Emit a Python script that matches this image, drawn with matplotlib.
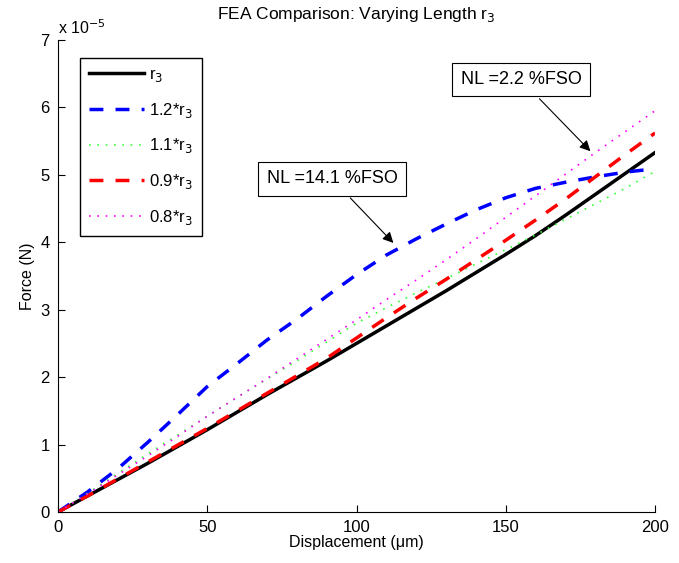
import matplotlib.pyplot as plt

plt.rcParams['font.family'] = ['Liberation Sans', 'DejaVu Sans']

# displacement (um) and force (x 1e-5 N)
disp = [0, 10, 20, 30, 40, 50, 60, 70, 80, 90, 100,
        110, 120, 130, 140, 150, 160, 170, 180, 190, 200]
f_r3 = [0, 0.24, 0.48, 0.72, 0.97, 1.22, 1.48, 1.74, 1.99, 2.24, 2.5,
        2.76, 3.02, 3.28, 3.55, 3.82, 4.1, 4.4, 4.71, 5.02, 5.33]
f_12 = [0, 0.3, 0.64, 1.03, 1.44, 1.86, 2.2, 2.55, 2.86, 3.2, 3.52,
        3.81, 4.05, 4.27, 4.48, 4.66, 4.8, 4.89, 4.97, 5.04, 5.09]
f_11 = [0, 0.28, 0.57, 0.86, 1.14, 1.42, 1.7, 1.97, 2.24, 2.52, 2.8,
        3.03, 3.25, 3.46, 3.68, 3.89, 4.11, 4.34, 4.57, 4.8, 5.05]
f_09 = [0, 0.24, 0.49, 0.74, 0.99, 1.24, 1.5, 1.76, 2.02, 2.28, 2.58,
        2.88, 3.17, 3.45, 3.74, 4.03, 4.33, 4.64, 4.97, 5.3, 5.62]
f_08 = [0, 0.27, 0.55, 0.83, 1.12, 1.42, 1.7, 1.98, 2.27, 2.56, 2.85,
        3.15, 3.44, 3.74, 4.05, 4.37, 4.69, 5.01, 5.33, 5.64, 5.95]

fig = plt.figure(figsize=(6.79, 5.63), dpi=100)
ax = fig.add_axes([0.0854, 0.0906, 0.8793, 0.8384])

ax.plot(disp, f_r3, color='black', lw=2.5, label='r$_3$')
ax.plot(disp, f_12, color='blue', lw=2.5, dashes=(4, 3.5), label='1.2*r$_3$')
ax.plot(disp, f_11, color='#33ff33', lw=1.2, ls=(0, (1, 4)), label='1.1*r$_3$')
ax.plot(disp, f_09, color='red', lw=2.5, dashes=(4, 3.5), label='0.9*r$_3$')
ax.plot(disp, f_08, color='magenta', lw=1.2, ls=(0, (1, 4)), label='0.8*r$_3$')

ax.set_xlim(0, 200)
ax.set_ylim(0, 7)
ax.set_xticks([0, 50, 100, 150, 200])
ax.set_yticks(range(8))
ax.tick_params(direction='in', labelsize=12, length=5, pad=6)
ax.spines['top'].set_visible(False)
ax.spines['right'].set_visible(False)

ax.set_xlabel('Displacement (\u03bcm)', fontsize=11.5, labelpad=0)
ax.set_ylabel('Force (N)', fontsize=11.5, labelpad=4)
ax.set_title('FEA Comparison: Varying Length r$_3$', fontsize=12.5, pad=15)
ax.text(0, 7.04, 'x 10$^{-5}$', fontsize=11.5, ha='left', va='bottom')

leg = ax.legend(loc='upper left', bbox_to_anchor=(0.037, 0.962), fontsize=12,
                fancybox=False, framealpha=1, handlelength=3.3,
                labelspacing=1.0, borderpad=0.55, handletextpad=0.3,
                borderaxespad=0)
leg.get_frame().set_edgecolor('black')
leg.get_frame().set_linewidth(1.0)

box = dict(boxstyle='square,pad=0.45', fc='white', ec='black', lw=0.8)
arrow = dict(arrowstyle='-|>', color='black', lw=0.8, mutation_scale=16)
ax.annotate('NL =14.1 %FSO', xy=(113, 3.96), xytext=(91.8, 4.94),
            fontsize=13, ha='center', va='center', bbox=box,
            arrowprops=arrow)
ax.annotate('NL =2.2 %FSO', xy=(179, 5.32), xytext=(155.1, 6.41),
            fontsize=13, ha='center', va='center', bbox=box,
            arrowprops=arrow)

fig.savefig('out.png', dpi=100)
